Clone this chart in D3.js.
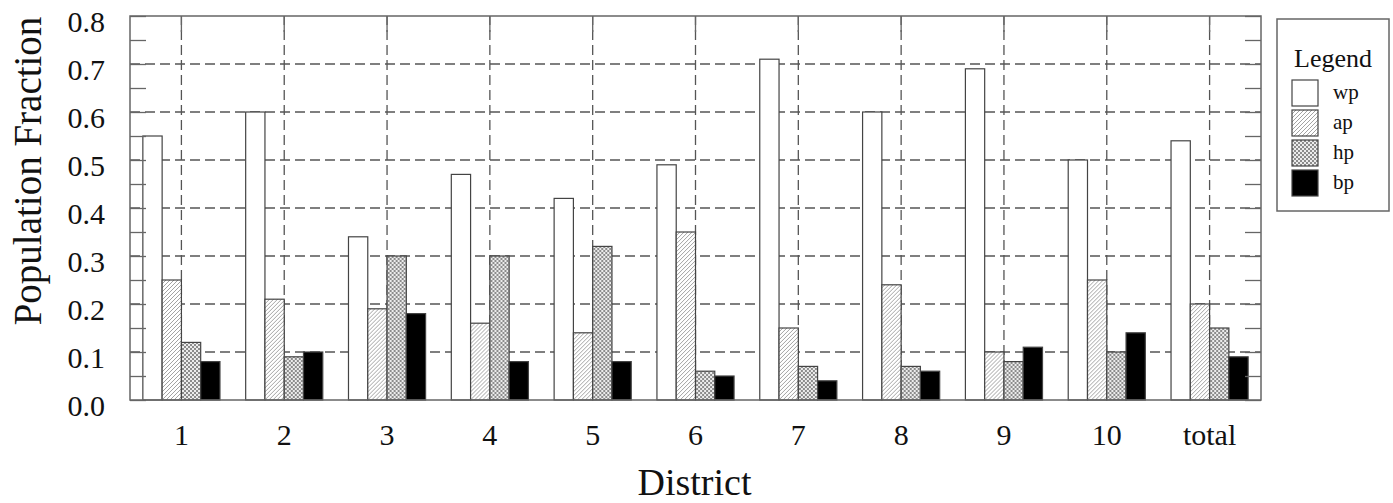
<!DOCTYPE html>
<html lang="en">
<head>
    <meta charset="UTF-8">
    <script type="text/javascript" src="https://cdn.jsdelivr.net/npm/d3@7"></script>
    <title>Population Fraction by District</title>
    <style type="text/css">
        body { margin: 0; background: white; }
        svg text { font-family: "Liberation Serif", "DejaVu Serif", serif; fill: #111; }
    </style>
</head>
<body>
<svg id="chart" width="1393" height="503"></svg>
<script>
    // data
    var districts = ["1", "2", "3", "4", "5", "6", "7", "8", "9", "10", "total"];
    var seriesKeys = ["wp", "ap", "hp", "bp"];
    var wp = [0.55, 0.60, 0.34, 0.47, 0.42, 0.49, 0.71, 0.60, 0.69, 0.50, 0.54];
    var ap = [0.25, 0.21, 0.19, 0.16, 0.14, 0.35, 0.15, 0.24, 0.10, 0.25, 0.20];
    var hp = [0.12, 0.09, 0.30, 0.30, 0.32, 0.06, 0.07, 0.07, 0.08, 0.10, 0.15];
    var bp = [0.08, 0.10, 0.18, 0.08, 0.08, 0.05, 0.04, 0.06, 0.11, 0.14, 0.09];
    var yTicks = [0.0, 0.1, 0.2, 0.3, 0.4, 0.5, 0.6, 0.7, 0.8];
    var yMinorTicks = [0.05, 0.15, 0.25, 0.35, 0.45, 0.55, 0.65, 0.75];

    var seriesValues = { wp: wp, ap: ap, hp: hp, bp: bp };
    var rows = districts.map(function(d, i) {
        return { district: d, values: seriesKeys.map(function(k) { return { key: k, value: seriesValues[k][i] }; }) };
    });

    // svg attr
    var margin = { top: 16, right: 132, bottom: 103, left: 130 };
    var width = 1393 - margin.left - margin.right;
    var height = 503 - margin.top - margin.bottom;
    var lineGrey = "#666";

    var svg = d3.select("#chart");
    var defs = svg.append("defs");

    // diagonal hatch for ap
    var hatch = defs.append("pattern").attr("id", "hatch")
            .attr("patternUnits", "userSpaceOnUse").attr("width", 4).attr("height", 4);
    hatch.append("rect").attr("width", 4).attr("height", 4).attr("fill", "white");
    hatch.append("path").attr("d", "M-1,1 l2,-2 M0,4 l4,-4 M3,5 l2,-2")
            .attr("stroke", "#999").attr("stroke-width", 0.9);

    // fine checker for hp
    var checker = defs.append("pattern").attr("id", "checker")
            .attr("patternUnits", "userSpaceOnUse").attr("width", 4).attr("height", 4);
    checker.append("rect").attr("width", 4).attr("height", 4).attr("fill", "#ececec");
    checker.append("rect").attr("width", 2).attr("height", 2).attr("fill", "#8c8c8c");
    checker.append("rect").attr("x", 2).attr("y", 2).attr("width", 2).attr("height", 2).attr("fill", "#8c8c8c");

    var fills = { wp: "white", ap: "url(#hatch)", hp: "url(#checker)", bp: "black" };

    // scales
    var x0 = d3.scaleBand().domain(districts).range([0, width]).padding(0);
    var x1 = d3.scaleBand().domain(seriesKeys)
            .range([x0.bandwidth() * 0.125, x0.bandwidth() * 0.875]).padding(0);
    var y = d3.scaleLinear().domain([0, 0.8]).range([height, 0]);

    var g = svg.append("g").attr("transform", "translate(" + margin.left + "," + margin.top + ")");

    // dashed grid
    var grid = g.append("g").attr("class", "grid")
            .attr("stroke", "#555").attr("stroke-width", 1.3).attr("stroke-dasharray", "10,5");
    grid.selectAll("line.h").data(yTicks.slice(1, -1)).enter().append("line")
            .attr("class", "h")
            .attr("x1", 0).attr("x2", width)
            .attr("y1", function(d) { return y(d); }).attr("y2", function(d) { return y(d); });
    grid.selectAll("line.v").data(districts).enter().append("line")
            .attr("class", "v")
            .attr("x1", function(d) { return x0(d) + x0.bandwidth() / 2; })
            .attr("x2", function(d) { return x0(d) + x0.bandwidth() / 2; })
            .attr("y1", height).attr("y2", 0);

    // bars
    var groups = g.selectAll("g.district").data(rows).enter().append("g")
            .attr("class", "district")
            .attr("transform", function(d) { return "translate(" + x0(d.district) + ",0)"; });
    groups.selectAll("rect").data(function(d) { return d.values; }).enter().append("rect")
            .attr("x", function(d) { return x1(d.key); })
            .attr("width", x1.bandwidth())
            .attr("y", function(d) { return y(d.value); })
            .attr("height", function(d) { return height - y(d.value); })
            .attr("fill", function(d) { return fills[d.key]; })
            .attr("stroke", "#444").attr("stroke-width", 1.2);

    // axes with inward ticks, labels placed separately
    var allY = yTicks.concat(yMinorTicks);
    var tickLen = 16;
    g.append("g").call(d3.axisRight(y).tickValues(allY).tickSize(tickLen).tickFormat(""))
            .call(function(s) { s.select(".domain").remove(); s.selectAll("line").attr("stroke", lineGrey).attr("stroke-width", 1.3); });
    g.append("g").attr("transform", "translate(" + width + ",0)")
            .call(d3.axisLeft(y).tickValues(allY).tickSize(tickLen).tickFormat(""))
            .call(function(s) { s.select(".domain").remove(); s.selectAll("line").attr("stroke", lineGrey).attr("stroke-width", 1.3); });
    g.append("g").call(d3.axisBottom(x0).tickSize(tickLen).tickFormat(""))
            .call(function(s) { s.select(".domain").remove(); s.selectAll("line").attr("stroke", lineGrey).attr("stroke-width", 1.3); });

    // frame
    g.append("rect").attr("x", 0).attr("y", 0).attr("width", width).attr("height", height)
            .attr("fill", "none").attr("stroke", lineGrey).attr("stroke-width", 1.5);

    // y tick labels
    g.selectAll("text.ylab").data(yTicks).enter().append("text")
            .attr("class", "ylab")
            .attr("x", -25)
            .attr("y", function(d) { return y(d) + 5; })
            .attr("dy", "0.35em")
            .attr("text-anchor", "end")
            .style("font-size", "30px")
            .text(function(d) { return d.toFixed(1); });

    // x tick labels
    g.selectAll("text.xlab").data(districts).enter().append("text")
            .attr("class", "xlab")
            .attr("x", function(d) { return x0(d) + x0.bandwidth() / 2; })
            .attr("y", height + 34)
            .attr("dy", "0.35em")
            .attr("text-anchor", "middle")
            .style("font-size", "30px")
            .text(function(d) { return d; });

    // axis titles
    svg.append("text")
            .attr("transform", "translate(41,171) rotate(-90)")
            .attr("text-anchor", "middle")
            .style("font-size", "39px")
            .text("Population Fraction");
    svg.append("text")
            .attr("x", margin.left + width / 2 - 1)
            .attr("y", 495)
            .attr("text-anchor", "middle")
            .style("font-size", "38px")
            .text("District");

    // legend
    var legend = svg.append("g").attr("transform", "translate(1277,19)");
    legend.append("rect").attr("width", 112).attr("height", 192)
            .attr("fill", "white").attr("stroke", lineGrey).attr("stroke-width", 1.5);
    legend.append("text").attr("x", 56).attr("y", 48).attr("text-anchor", "middle")
            .style("font-size", "26px").text("Legend");
    var items = legend.selectAll("g.item").data(seriesKeys).enter().append("g")
            .attr("class", "item")
            .attr("transform", function(d, i) { return "translate(15," + (61 + i * 30) + ")"; });
    items.append("rect").attr("width", 26).attr("height", 26)
            .attr("fill", function(d) { return fills[d]; })
            .attr("stroke", "#444").attr("stroke-width", 1.2);
    items.append("text").attr("x", 41).attr("y", 13).attr("dy", "0.3em")
            .style("font-size", "21px").text(function(d) { return d; });
</script>
</body>
</html>
